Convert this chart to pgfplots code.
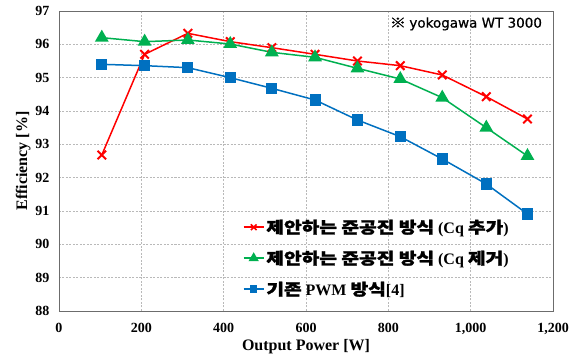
\documentclass[border=0pt]{standalone}
\usepackage{fontspec}
\setmainfont{Liberation Serif}
\newfontfamily\kr{Noto Sans CJK KR}[FakeStretch=1.2, FakeBold=1.5]
\newfontfamily\comic{DejaVu Sans}[FakeBold=0.6]
\usepackage{pgfplots}
\pgfplotsset{compat=1.18}
\definecolor{cred}{RGB}{255,0,0}
\definecolor{cgreen}{RGB}{0,176,80}
\definecolor{cblue}{RGB}{0,112,192}
\begin{document}
\begin{tikzpicture}
\useasboundingbox (-59pt,-52pt) rectangle (520pt,311pt);
\begin{axis}[
  at={(0,0)}, anchor=south west,
  scale only axis, width=494pt, height=300pt,
  xmin=0, xmax=1200, ymin=88, ymax=97,
  xtick={0,200,...,1200}, ytick={88,89,...,97},
  grid=major, grid style={dash pattern=on 2pt off 1.5pt, gray!55, line width=0.5pt},
  axis line style={gray!85!black, line width=0.8pt},
  tick style={draw=none},
  /pgf/number format/assume math mode=true,
  /pgf/number format/1000 sep={,},
  ticklabel style={font=\fontsize{14}{16}\selectfont\bfseries},
  yticklabel style={xshift=-6pt},
  xticklabel style={yshift=-9pt},
  xlabel={Output Power [W]}, ylabel={Efficiency [\%]},
  label style={font=\fontsize{16}{18}\selectfont\bfseries},
  ylabel style={yshift=-2pt},
  xlabel style={yshift=2pt},
  legend style={at={(0.37,0.315)}, anchor=north west, draw=none, fill=none,
    font=\fontsize{16}{18}\selectfont\bfseries, row sep=12pt,
    inner sep=1pt},
  legend cell align=left,
  legend image code/.code={
    \draw[#1] (0cm,0cm) -- (0.7cm,0cm) plot coordinates {(0.35cm,0cm)};},
]
\addplot[cred, line width=1.5pt, mark=x, mark size=6pt, mark options={line width=2pt}, forget plot] coordinates {
(104,92.68) (208,95.70) (313,96.33) (416,96.08) (517,95.90) (622,95.70) (725,95.50) (829,95.36) (931,95.08) (1038,94.43) (1138,93.76)};
\addplot[cgreen, line width=1.5pt, mark=triangle*, mark size=6.5pt, forget plot] coordinates {
(104,96.20) (208,96.08) (313,96.13) (416,96.01) (517,95.76) (622,95.61) (725,95.28) (829,94.96) (931,94.40) (1038,93.50) (1138,92.65)};
\addplot[cblue, line width=1.5pt, mark=square*, mark size=4.8pt, forget plot] coordinates {
(104,95.40) (208,95.36) (313,95.30) (416,95.00) (517,94.68) (622,94.33) (725,93.73) (829,93.23) (931,92.56) (1038,91.81) (1138,90.91)};
\addlegendimage{cred, line width=1.5pt, mark=x, mark size=4pt, mark options={line width=1.6pt}}
\addlegendentry{{\kr 제안하는 준공진 방식} (Cq {\kr 추가})}
\addlegendimage{cgreen, line width=1.5pt, mark=triangle*, mark size=4.5pt}
\addlegendentry{{\kr 제안하는 준공진 방식} (Cq {\kr 제거})}
\addlegendimage{cblue, line width=1.5pt, mark=square*, mark size=3pt}
\addlegendentry{{\kr 기존} PWM {\kr 방식}[4]}
\node[anchor=east, font=\fontsize{13.5}{15}\selectfont, inner sep=0pt] at (rel axis cs:0.978,0.957) {{\kr ※} {\comic yokogawa WT 3000}};
\end{axis}
\end{tikzpicture}
\end{document}
